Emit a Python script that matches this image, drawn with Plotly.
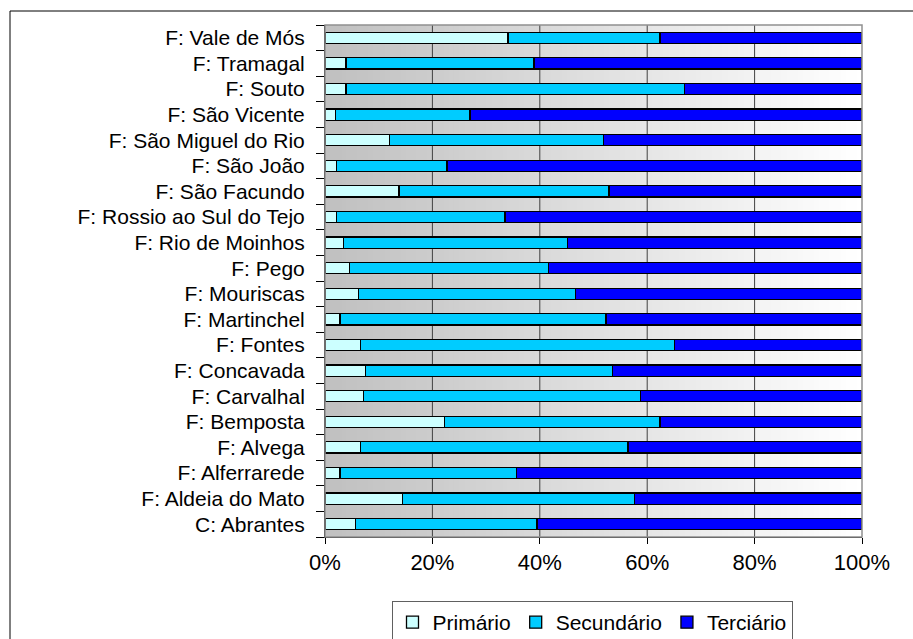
import plotly.graph_objects as go

categories = [
    "C: Abrantes", "F: Aldeia do Mato", "F: Alferrarede", "F: Alvega", "F: Bemposta",
    "F: Carvalhal", "F: Concavada", "F: Fontes", "F: Martinchel", "F: Mouriscas",
    "F: Pego", "F: Rio de Moinhos", "F: Rossio ao Sul do Tejo", "F: São Facundo",
    "F: São João", "F: São Miguel do Rio", "F: São Vicente", "F: Souto",
    "F: Tramagal", "F: Vale de Mós",
]
primario = [5.7, 14.4, 2.8, 6.6, 22.2, 7.2, 7.5, 6.6, 2.8, 6.3,
            4.5, 3.4, 2.2, 13.8, 2.2, 12.0, 1.9, 3.9, 3.9, 34.1]
secundario = [33.8, 43.2, 32.9, 49.8, 40.2, 51.6, 46.0, 58.5, 49.5, 40.3,
              37.1, 41.7, 31.3, 39.1, 20.5, 39.8, 25.1, 63.0, 35.0, 28.3]
terciario = [60.5, 42.4, 64.3, 43.6, 37.6, 41.2, 46.5, 34.9, 47.7, 53.4,
             58.4, 54.9, 66.5, 47.1, 77.3, 48.2, 73.0, 33.1, 61.1, 37.6]
series_names = ["Primário", "Secundário", "Terciário"]
series_colors = ["#CCFFFF", "#00CCFF", "#0000FF"]
x_ticks = [0, 20, 40, 60, 80, 100]
x_tick_labels = ["0%", "20%", "40%", "60%", "80%", "100%"]

W, H = 913, 639
ML, MR, MT, MB = 325, 51, 25, 102
PW, PH = W - ML - MR, H - MT - MB

def px_x(p):
    return (p - ML) / PW

def px_y(p):
    return (H - MB - p) / PH

fig = go.Figure()
for name, vals, col in zip(series_names, [primario, secundario, terciario], series_colors):
    fig.add_trace(go.Bar(
        y=categories, x=vals, name=name, orientation="h",
        marker=dict(color=col, line=dict(color="black", width=1.3)),
    ))

shapes = []
# gradient background (overlapping strips, no seams)
n = 100
for i in range(n):
    t = i / (n - 1)
    g = int(round(192 + (255 - 192) * t))
    shapes.append(dict(type="rect", xref="x", yref="paper",
                       x0=100 * i / n, x1=100, y0=0, y1=1,
                       fillcolor=f"rgb({g},{g},{g})", line=dict(width=0),
                       layer="below"))
# vertical gridlines at tick positions
for v in x_ticks[1:-1]:
    shapes.append(dict(type="line", xref="x", yref="paper", x0=v, x1=v, y0=0, y1=1,
                       line=dict(color="#404040", width=1), layer="below"))
# plot area border
shapes.append(dict(type="rect", xref="paper", yref="paper", x0=0, x1=1, y0=0, y1=1,
                   line=dict(color="#909090", width=1.5), layer="above"))
# outer frame
shapes.append(dict(type="rect", xref="paper", yref="paper",
                   x0=px_x(10), y0=px_y(11), x1=px_x(W + 20), y1=px_y(H + 20),
                   line=dict(color="black", width=1), fillcolor="rgba(0,0,0,0)"))

fig.update_layout(
    width=W, height=H,
    margin=dict(l=ML, r=MR, t=MT, b=MB, autoexpand=False),
    barmode="stack", bargap=0.56,
    paper_bgcolor="white", plot_bgcolor="white",
    font=dict(family="Liberation Sans, Arial, sans-serif", size=21, color="black"),
    shapes=shapes,
    showlegend=True,
    legend=dict(orientation="h", x=px_x(592), xanchor="center",
                y=px_y(601), yanchor="top",
                bordercolor="#606060", borderwidth=1, bgcolor="white",
                font=dict(size=21), traceorder="normal",
                itemwidth=30, tracegroupgap=0),
    xaxis=dict(range=[0, 100], tickvals=x_ticks, ticktext=x_tick_labels,
               showgrid=False,
               showline=True, linecolor="black", linewidth=1,
               ticks="outside", ticklen=6, tickcolor="black",
               tickfont=dict(size=22), zeroline=False, fixedrange=True),
    yaxis=dict(type="category", categoryorder="array", categoryarray=categories,
               range=[-0.5, len(categories) - 0.5],
               showgrid=False, showline=True, linecolor="black", linewidth=1,
               ticks="outside", ticklen=8, tickcolor="black", tickson="boundaries",
               ticklabelstandoff=15, tickfont=dict(size=21), fixedrange=True),
)

fig.write_html("out.html", config={"displayModeBar": False},
               post_script="document.body.style.margin='0';document.body.style.padding='0';")
